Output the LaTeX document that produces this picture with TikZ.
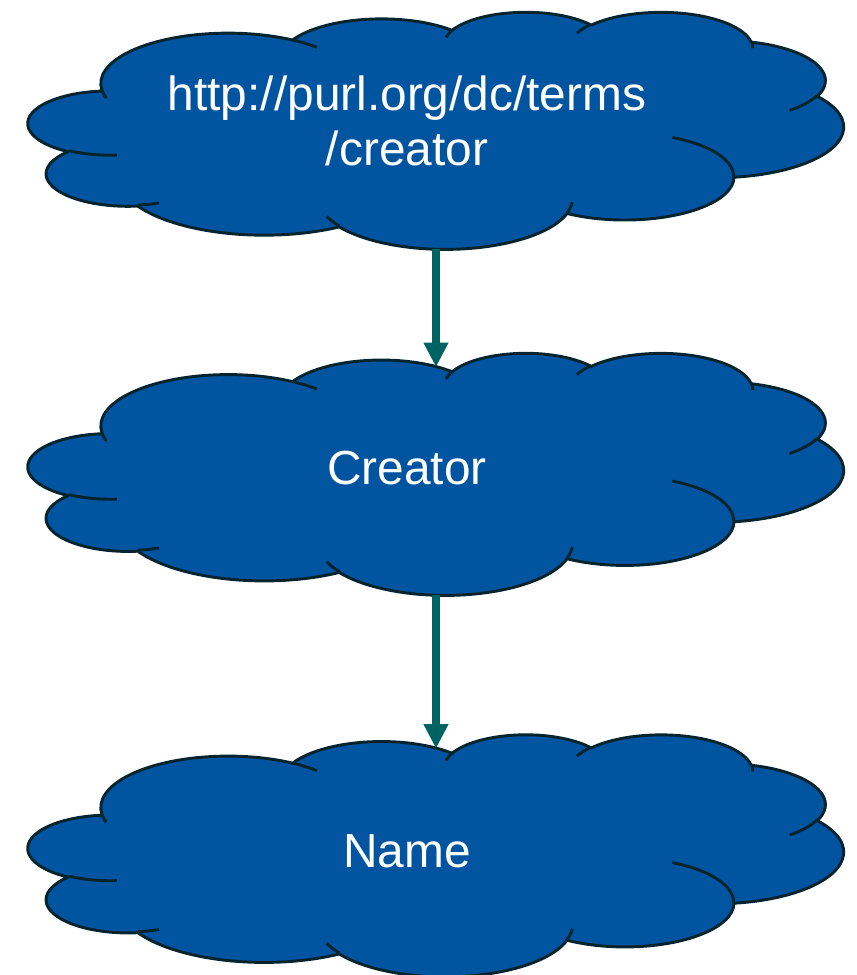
\documentclass[tikz,border=0pt]{standalone}
\usepackage{fontspec}
\setmainfont{Liberation Sans}
\usetikzlibrary{arrows.meta}
\definecolor{cloudfill}{RGB}{0,84,160}
\definecolor{cloudline}{RGB}{6,36,46}
\definecolor{arrowteal}{RGB}{0,99,99}
\tikzset{
  cloudbody/.style={fill=cloudfill, draw=cloudline, line width=2.2pt, line join=round},
  cloudcrease/.style={draw=cloudline, line width=2.2pt},
  cloudtext/.style={text=white, font=\fontsize{36}{41.4}\selectfont, align=center, inner sep=0pt},
  flowarrow/.style={draw=arrowteal, line width=6pt, -{Triangle[width=19pt,length=18pt,line width=0pt]}},
}
% one interior crease of the cloud: x y wR hR startangle sweep (visual angles)
\newcommand\cloudcreasearc[6]{%
  \pgfmathsetmacro\cta{atan2((#3)*sin(#5),(#4)*cos(#5))}%
  \pgfmathsetmacro\ctb{atan2((#3)*sin((#5)+(#6)),(#4)*cos((#5)+(#6)))}%
  \pgfmathsetmacro\ctd{mod(\ctb-\cta-(#6)+540,360)-180}%
  \pgfmathsetmacro\cte{\cta+(#6)+\ctd}%
  \draw[cloudcrease] (#1,#2) arc[start angle=\cta, end angle=\cte, x radius=#3, y radius=#4];}
% cloud: name, left, top, width, height (pixels)
\newcommand\drawcloud[5]{%
  \pgfmathsetmacro\cxs{#4*0.0264583/43.2}%
  \pgfmathsetmacro\cys{#5*0.0264583/43.2}%
  \begin{scope}[shift={(#2,#3)}, x=1cm, y=-1cm, xscale=\cxs, yscale=\cys]
    \path[cloudbody] (3.9,14.37)
      arc[start angle=172.255, end angle=300.37, x radius=6.753, y radius=9.19]
      arc[start angle=-152.02, end angle=-45.45, x radius=5.333, y radius=7.267]
      arc[start angle=-153.48, end angle=-37.32, x radius=4.365, y radius=5.945]
      arc[start angle=-139.69, end angle=-10.21, x radius=4.857, y radius=6.595]
      arc[start angle=-74.77, end angle=23.21, x radius=5.333, y radius=7.273]
      arc[start angle=-37.51, end angle=81.86, x radius=6.775, y radius=9.22]
      arc[start angle=0.4596, end angle=121.98, x radius=5.785, y radius=7.867]
      arc[start angle=16.85, end angle=146.25, x radius=6.752, y radius=9.215]
      arc[start angle=58.98, end angle=150.20, x radius=7.72, y radius=10.543]
      arc[start angle=83.31, end angle=223.13, x radius=4.36, y radius=5.918]
      arc[start angle=120.36, end angle=264.11, x radius=4.345, y radius=5.945]
      -- cycle;
    \cloudcreasearc{4.693}{26.177}{4.345}{5.945}{86.742}{26.430}
    \cloudcreasearc{6.928}{34.899}{4.36}{5.918}{73.610}{11.447}
    \cloudcreasearc{16.478}{39.090}{6.752}{9.215}{137.624}{14.081}
    \cloudcreasearc{28.827}{34.751}{6.752}{9.215}{6.453}{15.998}
    \cloudcreasearc{34.129}{22.954}{5.785}{7.867}{-70.292}{70.917}
    \cloudcreasearc{41.798}{15.354}{5.333}{7.273}{30.318}{27.752}
    \cloudcreasearc{38.324}{5.426}{4.857}{6.595}{-13.744}{14.859}
    \cloudcreasearc{29.078}{3.952}{4.857}{6.595}{-149.181}{18.195}
    \cloudcreasearc{22.141}{4.720}{4.365}{5.945}{-163.494}{17.686}
    \cloudcreasearc{14.000}{5.192}{6.753}{9.190}{-66.707}{12.319}
    \cloudcreasearc{4.127}{15.789}{6.753}{9.190}{157.654}{11.858}
    \coordinate (#1-top) at (21.605,2.505);
    \coordinate (#1-bot) at (21.605,43.20);
  \end{scope}}
\begin{document}
\begin{tikzpicture}[x=0.0264583cm, y=-0.0264583cm]
  \useasboundingbox (0,0) rectangle (856,975);
  \drawcloud{c1}{28.4}{11.5}{815}{237}
  \drawcloud{c2}{28.4}{352.5}{815}{242}
  \drawcloud{c3}{28.4}{734}{815}{242}
  \node[cloudtext, anchor=base] (uri) at (407,165) {http://purl.org/dc/terms\\/creator};
  \node[cloudtext, anchor=base] (creator) at (407,484) {Creator};
  \node[cloudtext, anchor=base] (name) at (407,867) {Name};
  \draw[flowarrow] (c1-bot) -- (c2-top);
  \draw[flowarrow] (c2-bot) -- (c3-top);
\end{tikzpicture}
\end{document}
